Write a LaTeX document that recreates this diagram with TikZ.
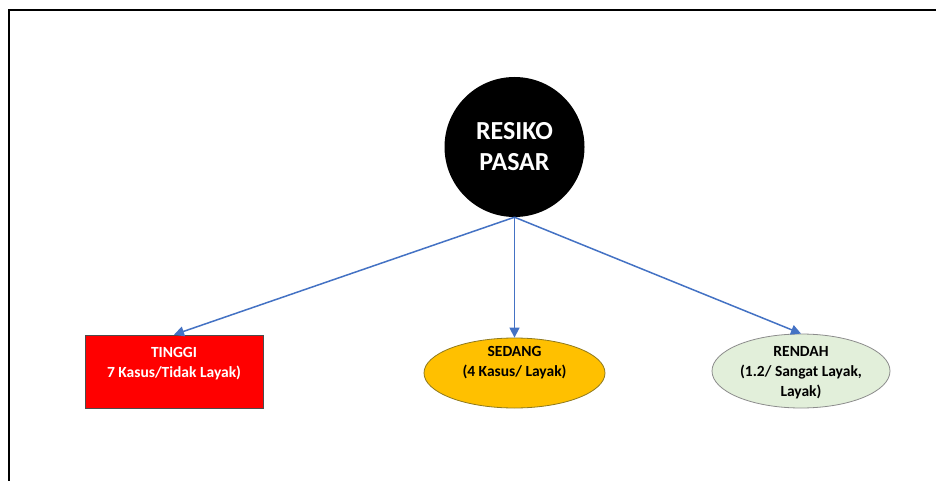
\documentclass[tikz,border=0pt]{standalone}
\usepackage{fontspec}
\setmainfont{Carlito}
\usetikzlibrary{shapes.geometric,arrows.meta}
\definecolor{arrowblue}{HTML}{4472C4}
\definecolor{sedangfill}{HTML}{FFC000}
\definecolor{sedangdraw}{HTML}{8F7A1E}
\definecolor{rendahfill}{HTML}{E2EFDA}
\definecolor{rendahdraw}{HTML}{8C8C8C}
\tikzset{
  conn/.style={draw=arrowblue, line width=1.5pt, -{Triangle[length=10pt,width=10pt]}},
  lbl/.style={font=\bfseries\fontsize{15.5}{20}\selectfont, align=center, inner sep=0pt},
}
\begin{document}
\begin{tikzpicture}[x=1pt,y=-1pt]
\useasboundingbox (0,0) rectangle (936,481);
\fill[white] (0,0) rectangle (936,481);
\draw[line width=2pt] (9,481) -- (9,10) -- (936,10);
\node[circle, fill=black, minimum size=140pt, inner sep=0pt, text=white,
      font=\bfseries\fontsize{26}{31}\selectfont, align=center] (rp) at (514.5,147) {RESIKO\\PASAR};
\node[rectangle, fill=red, draw=black!70, line width=0.6pt, minimum width=178pt, minimum height=73pt] (ti) at (174,371.5) {};
\node[lbl, text=white] (tit) at (174,363.5) {TINGGI\\7 Kasus/Tidak Layak)};
\node[ellipse, fill=sedangfill, draw=sedangdraw, line width=0.8pt, minimum width=181pt, minimum height=70pt,
      inner sep=0pt] (se) at (514.5,373) {};
\node[lbl] (set) at (514.5,363) {SEDANG\\(4 Kasus/ Layak)};
\node[ellipse, fill=rendahfill, draw=rendahdraw, line width=0.8pt, minimum width=178pt, minimum height=74pt,
      inner sep=0pt] (re) at (801,371) {};
\node[lbl] (ret) at (801,372.5) {RENDAH\\(1.2/ Sangat Layak,\\Layak)};
\draw[conn] (rp.south) -- (ti.north);
\draw[conn] (rp.south) -- (se.north);
\draw[conn] (rp.south) -- (re.north);
\end{tikzpicture}
\end{document}
